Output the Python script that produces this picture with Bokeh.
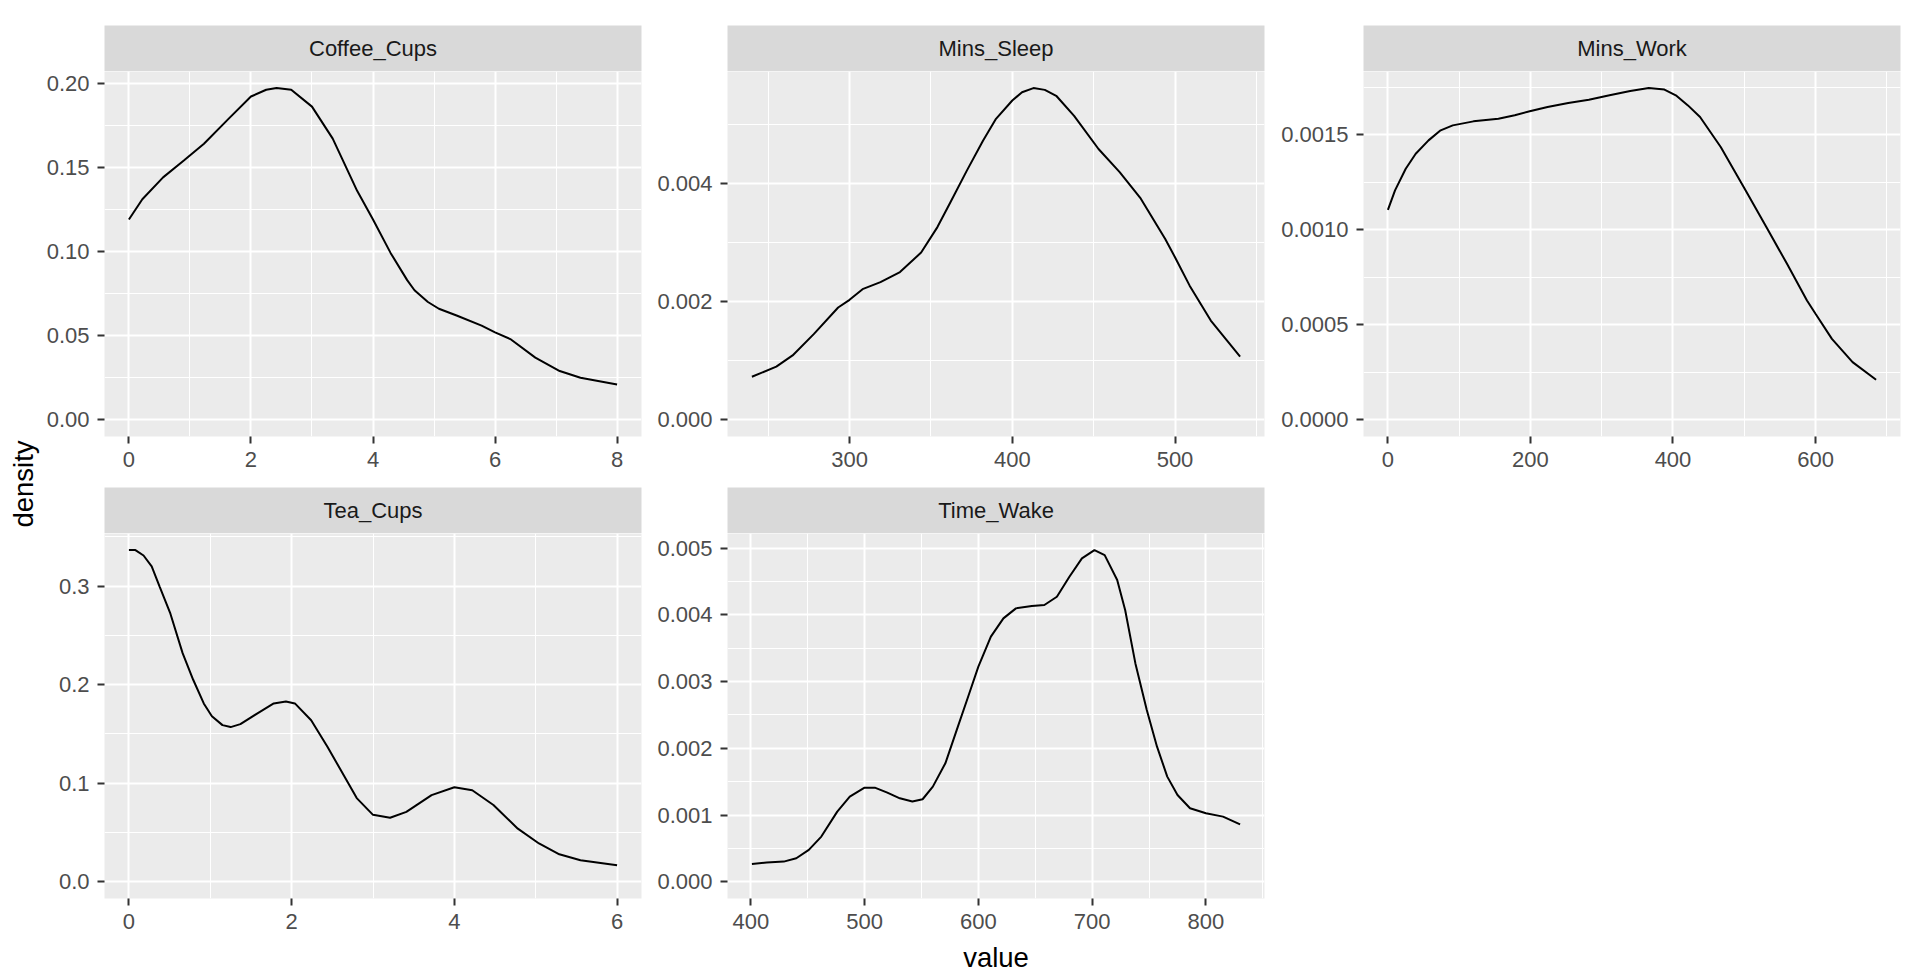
import math
from bokeh.plotting import figure
from bokeh.layouts import row, column
from bokeh.models import Range1d, FixedTicker, NumeralTickFormatter
from bokeh.core.properties import value
from bokeh.embed import file_html
from bokeh.resources import INLINE

# ---------------- data ----------------
facet_names = ["Coffee_Cups", "Mins_Sleep", "Mins_Work", "Tea_Cups", "Time_Wake"]

coffee_x = [0.0, 0.22, 0.56, 0.9, 1.23, 1.64, 2.0, 2.25, 2.42, 2.66, 3.0, 3.34, 3.74, 4.0, 4.29,
            4.56, 4.68, 4.9, 5.08, 5.37, 5.78, 6.0, 6.25, 6.66, 7.06, 7.4, 8.0]
coffee_y = [0.119, 0.131, 0.144, 0.154, 0.164, 0.179, 0.192, 0.196, 0.197, 0.196, 0.186, 0.167, 0.136,
            0.119, 0.099, 0.083, 0.077, 0.070, 0.066, 0.062, 0.056, 0.052, 0.048, 0.037, 0.029, 0.025,
            0.021]

sleep_x = [240, 255, 265, 278, 293, 300, 308, 319, 331, 344, 354, 362, 372, 382, 390, 400, 406, 413,
           420, 427, 438, 453, 466, 479, 494, 500, 509, 522, 532, 540]
sleep_y = [0.00073, 0.00090, 0.00109, 0.00145, 0.00190, 0.00203, 0.00221, 0.00233, 0.00250, 0.00283,
           0.00326, 0.00368, 0.00421, 0.00472, 0.00509, 0.00540, 0.00554, 0.00561, 0.00558, 0.00548,
           0.00514, 0.00458, 0.00419, 0.00374, 0.00306, 0.00275, 0.00227, 0.00168, 0.00134, 0.00107]

work_x = [0, 10, 25, 39, 57, 74, 91, 120, 155, 178, 199, 224, 253, 282, 311, 340, 366, 388, 404, 421,
          438, 467, 502, 531, 560, 588, 600, 623, 652, 685]
work_y = [0.001105, 0.001207, 0.001321, 0.00140, 0.00147, 0.001523, 0.001549, 0.00157, 0.001584,
          0.001602, 0.001623, 0.001646, 0.001667, 0.001684, 0.001707, 0.00173, 0.001745, 0.001737,
          0.001707, 0.001654, 0.001593, 0.001435, 0.001207, 0.001014, 0.000821, 0.000628, 0.000558,
          0.000426, 0.000304, 0.000211]

tea_x = [0, 0.08, 0.18, 0.28, 0.38, 0.51, 0.66, 0.79, 0.92, 1.02, 1.15, 1.25, 1.37, 1.58, 1.78, 1.93,
         2.04, 2.24, 2.44, 2.6, 2.8, 3.0, 3.21, 3.41, 3.72, 4.0, 4.22, 4.48, 4.78, 5.04, 5.29, 5.55, 6.0]
tea_y = [0.3365, 0.3365, 0.331, 0.320, 0.299, 0.272, 0.232, 0.205, 0.181, 0.168, 0.159, 0.157, 0.160,
         0.171, 0.181, 0.183, 0.181, 0.164, 0.137, 0.114, 0.085, 0.068, 0.065, 0.071, 0.088, 0.096,
         0.093, 0.078, 0.054, 0.039, 0.028, 0.022, 0.017]

wake_x = [401, 414, 429, 440, 451, 462, 476, 487, 500, 509, 520, 531, 542, 551, 560, 571, 582, 591,
          600, 611, 622, 633, 647, 658, 669, 680, 691, 702, 711, 722, 729, 738, 748, 757, 766, 775,
          786, 800, 815, 830]
wake_y = [0.000269, 0.000289, 0.000304, 0.000354, 0.000479, 0.000679, 0.001053, 0.001277, 0.001412,
          0.001412, 0.001337, 0.001252, 0.001203, 0.001238, 0.001427, 0.001776, 0.002325, 0.002774,
          0.003224, 0.003673, 0.003947, 0.004097, 0.004132, 0.004147, 0.004271, 0.004571, 0.004845,
          0.00497, 0.004895, 0.004521, 0.004072, 0.003273, 0.002575, 0.002026, 0.001577, 0.001302,
          0.001103, 0.001028, 0.000978, 0.000863]

coffee_xticks = [0, 2, 4, 6, 8]
coffee_yticks = [0.00, 0.05, 0.10, 0.15, 0.20]
sleep_xticks = [300, 400, 500]
sleep_yticks = [0.000, 0.002, 0.004]
work_xticks = [0, 200, 400, 600]
work_yticks = [0.0000, 0.0005, 0.0010, 0.0015]
tea_xticks = [0, 2, 4, 6]
tea_yticks = [0.0, 0.1, 0.2, 0.3]
wake_xticks = [400, 500, 600, 700, 800]
wake_yticks = [0.000, 0.001, 0.002, 0.003, 0.004, 0.005]

x_title = "value"
y_title = "density"

# ---------------- style ----------------
FONT = "Liberation Sans"
FRAME_W, FRAME_H, STRIP_H = 537, 365, 46
PANEL_BG, STRIP_BG = "#EBEBEB", "#D9D9D9"
DENS_W = 40


def minor_of(ticks, lo, hi):
    step = ticks[1] - ticks[0]
    cands = [ticks[0] - step / 2] + [t + step / 2 for t in ticks]
    return [c for c in cands if lo < c < hi]


def strip(name, left, right, top):
    s = figure(frame_width=FRAME_W, frame_height=STRIP_H, x_range=Range1d(0, 1), y_range=Range1d(0, 1),
               min_border_left=left, min_border_right=right, min_border_top=top, min_border_bottom=0,
               x_axis_location=None, y_axis_location=None, toolbar_location=None,
               output_backend="svg", background_fill_color=STRIP_BG, border_fill_color="white",
               outline_line_color=None)
    s.grid.visible = False
    s.text(x=[0.5], y=[0.5], text=[name], text_align="center", text_baseline="middle",
           text_font=value(FONT), text_font_size="22px", text_color="#1A1A1A")
    return s


def panel(xs, ys, xticks, yticks, xfmt, yfmt, left, right, bottom, xlabel=None):
    x0, x1 = min(xs), max(xs)
    dx = x1 - x0
    ymax = max(ys)
    xr = Range1d(x0 - 0.05 * dx, x1 + 0.05 * dx)
    yr = Range1d(-0.05 * ymax, 1.05 * ymax)
    p = figure(frame_width=FRAME_W, frame_height=FRAME_H, x_range=xr, y_range=yr,
               min_border_left=left, min_border_right=right, min_border_top=0, min_border_bottom=bottom,
               toolbar_location=None, output_backend="svg", background_fill_color=PANEL_BG,
               border_fill_color="white", outline_line_color=None)
    xt = FixedTicker(ticks=xticks, minor_ticks=minor_of(xticks, xr.start, xr.end))
    yt = FixedTicker(ticks=yticks, minor_ticks=minor_of(yticks, yr.start, yr.end))
    p.xaxis.ticker = xt
    p.xgrid.ticker = xt
    p.yaxis.ticker = yt
    p.ygrid.ticker = yt
    p.xaxis.formatter = NumeralTickFormatter(format=xfmt)
    p.yaxis.formatter = NumeralTickFormatter(format=yfmt)
    p.grid.grid_line_color = "white"
    p.grid.grid_line_width = 2.0
    p.grid.minor_grid_line_color = "white"
    p.grid.minor_grid_line_width = 1.1
    for ax in (p.xaxis, p.yaxis):
        ax.axis_line_color = None
        ax.major_tick_in = 0
        ax.major_tick_out = 7
        ax.major_tick_line_color = "#333333"
        ax.major_tick_line_width = 2
        ax.minor_tick_line_color = None
        ax.major_label_text_font = FONT
        ax.major_label_text_font_size = "22px"
        ax.major_label_text_color = "#4D4D4D"
    p.xaxis.major_label_standoff = 8
    p.yaxis.major_label_standoff = 8
    if xlabel:
        p.xaxis.axis_label = xlabel
        p.xaxis.axis_label_text_font = FONT
        p.xaxis.axis_label_text_font_size = "27.5px"
        p.xaxis.axis_label_text_font_style = "normal"
        p.xaxis.axis_label_text_color = "black"
        p.xaxis.axis_label_standoff = 10
    p.line(xs, ys, line_color="black", line_width=2)
    return p


# column borders (left, right)
B = [(64, 11), (75, 11), (88, 5)]
TOP = 25
ROW1_BOTTOM = 51
ROW2_BOTTOM = 973 - (TOP + STRIP_H + FRAME_H + ROW1_BOTTOM) - (STRIP_H + FRAME_H)

c1 = column(strip(facet_names[0], *B[0], TOP),
            panel(coffee_x, coffee_y, coffee_xticks, coffee_yticks, "0", "0.00", *B[0], ROW1_BOTTOM))
c2 = column(strip(facet_names[1], *B[1], TOP),
            panel(sleep_x, sleep_y, sleep_xticks, sleep_yticks, "0", "0.000", *B[1], ROW1_BOTTOM))
c3 = column(strip(facet_names[2], *B[2], TOP),
            panel(work_x, work_y, work_xticks, work_yticks, "0", "0.0000", *B[2], ROW1_BOTTOM))
c4 = column(strip(facet_names[3], *B[0], 0),
            panel(tea_x, tea_y, tea_xticks, tea_yticks, "0", "0.0", *B[0], ROW2_BOTTOM))
c5 = column(strip(facet_names[4], *B[1], 0),
            panel(wake_x, wake_y, wake_xticks, wake_yticks, "0", "0.000", *B[1], ROW2_BOTTOM,
                  xlabel=x_title))

# y-axis title: a thin figure whose left axis carries only the label
dfig = figure(frame_width=1, frame_height=973 - 6, x_range=Range1d(0, 1), y_range=Range1d(0, 1),
              min_border_left=DENS_W - 1, min_border_right=0, min_border_top=0, min_border_bottom=6,
              x_axis_location=None, y_axis_location="left", toolbar_location=None,
              output_backend="svg", background_fill_color="white", border_fill_color="white",
              outline_line_color=None)
dfig.grid.visible = False
dfig.yaxis.ticker = FixedTicker(ticks=[])
dfig.yaxis.axis_line_color = None
dfig.yaxis.major_tick_line_color = None
dfig.yaxis.minor_tick_line_color = None
dfig.yaxis.major_tick_out = 0
dfig.yaxis.major_label_standoff = 0
dfig.yaxis.axis_label = y_title
dfig.yaxis.axis_label_standoff = 1
dfig.yaxis.axis_label_text_font = FONT
dfig.yaxis.axis_label_text_font_size = "27.5px"
dfig.yaxis.axis_label_text_font_style = "normal"
dfig.yaxis.axis_label_text_color = "black"

layout = row(dfig, column(row(c1, c2, c3), row(c4, c5)))

open("out.html", "w").write(file_html(layout, INLINE))
